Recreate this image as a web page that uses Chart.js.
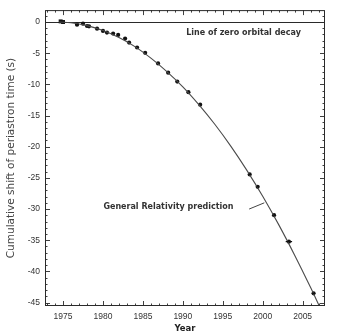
<!DOCTYPE html>
<html>
<head>
<meta charset="utf-8">
<script src="https://cdn.jsdelivr.net/npm/chart.js@4"></script>
<style>
  html, body { margin: 0; padding: 0; background: #fff; }
  #wrap { width: 338px; height: 334px; }
</style>
</head>
<body>
<div id="wrap"><canvas id="c" width="338" height="334"></canvas></div>
<script>
// Observed cumulative shift of periastron time, PSR B1913+16
const obsYears = [1974.7, 1975.0, 1976.75, 1977.5, 1978.0, 1978.25, 1979.26, 1980.0, 1980.5, 1981.27, 1981.9, 1982.77, 1983.27, 1984.27, 1985.28, 1986.9, 1988.16, 1989.3, 1990.7, 1992.17, 1998.37, 1999.37, 2001.42, 2003.28, 2006.37];
const obsShift = [0.1, 0.0, -0.43, -0.27, -0.64, -0.7, -1.07, -1.43, -1.7, -1.86, -2.07, -2.66, -3.3, -4.09, -4.94, -6.64, -8.12, -9.55, -11.26, -13.26, -24.44, -26.43, -30.99, -35.24, -43.52];
const obsYearErr = [0, 0, 0.2, 0, 0, 0, 0, 0, 0, 0, 0, 0, 0, 0, 0, 0, 0, 0, 0, 0, 0.15, 0.15, 0.15, 0.4, 0.15];

// General Relativity prediction
const grYears = [1974.5, 1976, 1978, 1980, 1982, 1984, 1986, 1988, 1990, 1992, 1994, 1996, 1998, 2000, 2002, 2004, 2006, 2007.1];
const grShift = [0.0, -0.12, -0.58, -1.37, -2.5, -3.95, -5.8, -7.95, -10.4, -13.25, -16.4, -19.9, -23.75, -27.95, -32.5, -37.4, -42.6, -45.6];

// Axis ranges and tick steps
const yearRange = [1972.74, 2007.8];
const shiftRange = [-45.55, 1.91];
const majorStep = 5;
const minorStep = 1;
const zeroDecay = 0;

// Labels placed in data coordinates
const notes = [
  { text: 'Line of zero orbital decay', x: 1997.6, y: -1.75 },
  { text: 'General Relativity prediction', x: 1988.2, y: -29.6 }
];
const leader = { x0: 1998.3, y0: -30.0, x1: 2000.2, y1: -29.0 };

const ink = '#2a2a2a';
const tickFont = { family: 'Liberation Sans', size: 8.5 };

const decorations = {
  id: 'decorations',
  beforeDatasetsDraw(chart) {
    const { ctx, chartArea: a, scales: { x, y } } = chart;
    ctx.save();
    // zero orbital decay reference line
    const yz = Math.round(y.getPixelForValue(zeroDecay)) + 0.5;
    ctx.strokeStyle = ink;
    ctx.lineWidth = 1.2;
    ctx.beginPath();
    ctx.moveTo(a.left, yz);
    ctx.lineTo(a.right, yz);
    ctx.stroke();
    ctx.restore();
  },
  afterDatasetsDraw(chart) {
    const { ctx, chartArea: a, scales: { x, y } } = chart;
    ctx.save();
    // frame
    ctx.strokeStyle = ink;
    ctx.lineWidth = 1;
    ctx.strokeRect(a.left + 0.5, a.top + 0.5, a.right - a.left - 1, a.bottom - a.top - 1);

    // inward ticks on all four sides
    ctx.lineWidth = 0.9;
    ctx.beginPath();
    for (let v = Math.ceil(yearRange[0]); v <= Math.floor(yearRange[1]); v += minorStep) {
      const len = v % majorStep === 0 ? 5 : 2.5;
      const px = Math.round(x.getPixelForValue(v)) + 0.5;
      ctx.moveTo(px, a.bottom); ctx.lineTo(px, a.bottom - len);
      ctx.moveTo(px, a.top); ctx.lineTo(px, a.top + len);
    }
    for (let v = Math.ceil(shiftRange[0]); v <= Math.floor(shiftRange[1]); v += minorStep) {
      const len = v % majorStep === 0 ? 5 : 2.5;
      const py = Math.round(y.getPixelForValue(v)) + 0.5;
      ctx.moveTo(a.left, py); ctx.lineTo(a.left + len, py);
      ctx.moveTo(a.right, py); ctx.lineTo(a.right - len, py);
    }
    ctx.stroke();

    // horizontal error bars on the observations
    ctx.strokeStyle = '#111';
    ctx.lineWidth = 1.2;
    ctx.beginPath();
    obsYears.forEach((yr, i) => {
      const e = obsYearErr[i];
      if (!e) return;
      const py = y.getPixelForValue(obsShift[i]);
      ctx.moveTo(x.getPixelForValue(yr - e), py);
      ctx.lineTo(x.getPixelForValue(yr + e), py);
    });
    ctx.stroke();

    // leader line to the prediction curve
    ctx.strokeStyle = '#444';
    ctx.lineWidth = 1;
    ctx.beginPath();
    ctx.moveTo(x.getPixelForValue(leader.x0), y.getPixelForValue(leader.y0));
    ctx.lineTo(x.getPixelForValue(leader.x1), y.getPixelForValue(leader.y1));
    ctx.stroke();

    // text labels
    ctx.fillStyle = '#333';
    ctx.font = 'bold 8px "DejaVu Sans"';
    ctx.textAlign = 'center';
    ctx.textBaseline = 'middle';
    notes.forEach(n => ctx.fillText(n.text, x.getPixelForValue(n.x), y.getPixelForValue(n.y)));
    ctx.restore();
  }
};

new Chart(document.getElementById('c'), {
  type: 'scatter',
  data: {
    datasets: [
      {
        type: 'line',
        label: 'General Relativity prediction',
        data: grYears.map((yr, i) => ({ x: yr, y: grShift[i] })),
        borderColor: '#4a4a4a',
        borderWidth: 1.1,
        pointRadius: 0,
        tension: 0.4,
        cubicInterpolationMode: 'monotone',
        fill: false
      },
      {
        label: 'Observed',
        data: obsYears.map((yr, i) => ({ x: yr, y: obsShift[i] })),
        backgroundColor: '#111',
        borderColor: '#111',
        pointRadius: obsYears.map((yr, i) => i < 2 ? 2.8 : 2.1),
        pointStyle: obsYears.map((yr, i) => i < 2 ? 'rect' : 'circle'),
        borderWidth: 0
      }
    ]
  },
  options: {
    responsive: false,
    animation: false,
    devicePixelRatio: 1,
    layout: { padding: { top: 8, right: 13, left: 0, bottom: 0 } },
    plugins: { legend: { display: false }, tooltip: { enabled: false } },
    scales: {
      x: {
        type: 'linear',
        min: yearRange[0],
        max: yearRange[1],
        afterFit: s => { s.height = 28; },
        grid: { display: false, drawTicks: false },
        border: { display: false },
        ticks: {
          stepSize: majorStep,
          includeBounds: false,
          autoSkip: false,
          maxRotation: 0,
          padding: 6,
          color: '#333',
          font: tickFont,
          callback: v => String(v)
        },
        title: {
          display: true,
          text: 'Year',
          color: '#222',
          font: { family: 'DejaVu Sans', size: 8.5, weight: 'bold' },
          padding: { top: 0, bottom: 0 }
        }
      },
      y: {
        type: 'linear',
        min: shiftRange[0],
        max: shiftRange[1],
        afterFit: s => { s.width = 45; },
        grid: { display: false, drawTicks: false },
        border: { display: false },
        ticks: {
          stepSize: majorStep,
          includeBounds: false,
          autoSkip: false,
          padding: 5,
          color: '#333',
          font: tickFont,
          callback: v => String(v)
        },
        title: {
          display: true,
          text: 'Cumulative shift of periastron time (s)',
          color: '#444',
          font: { family: 'DejaVu Sans', size: 10.5 },
          padding: { top: 5, bottom: 0 }
        }
      }
    }
  },
  plugins: [decorations]
});
</script>
</body>
</html>
